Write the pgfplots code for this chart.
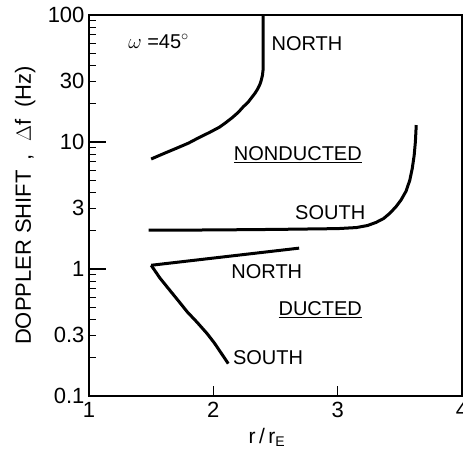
\documentclass[border=0pt]{standalone}
\usepackage{pgfplots}
\pgfplotsset{compat=1.18}
\usepackage{fontspec}
\setmainfont{Liberation Sans}
\begin{document}
\begin{tikzpicture}
\begin{axis}[
  scale only axis,
  width=373pt, height=381pt,
  ymode=log,
  xmin=1, xmax=4, ymin=0.1, ymax=100,
  axis line style={line width=1.4pt},
  tick align=inside,
  xtick pos=bottom, ytick pos=left,
  xtick={1,2,3,4},
  ytick={0.1,1,10,100},
  yticklabels={0.1,1,10,100},
  extra y ticks={0.3,3,30},
  extra y tick labels={0.3,3,30},
  extra y tick style={major tick length=7pt},
  minor ytick={0.2,0.4,0.5,0.6,0.7,0.8,0.9,2,4,5,6,7,8,9,20,40,50,60,70,80,90},
  major tick length=17pt, minor tick length=7pt,
  xtick style={/pgfplots/major tick length=10pt},
  every tick/.style={black, line width=1.2pt},
  log ticks with fixed point,
  ticklabel style={font=\fontsize{22}{24}\selectfont},
  /pgf/number format/assume math mode=true,
  yticklabel style={xshift=-1pt},
  xticklabel style={yshift=-3pt},
  xlabel={r\,/\,r\textsubscript{\fontsize{14}{15}\selectfont E}},
  ylabel={DOPPLER SHIFT\, ,\ \ \(\Delta\)f\ \ (Hz)},
  every axis x label/.style={at={(axis description cs:0.477,0)}, anchor=north, yshift=-29pt, font=\fontsize{21}{23}\selectfont},
  every axis y label/.style={at={(axis description cs:0,0.5)}, rotate=90, anchor=south, yshift=50pt, font=\fontsize{22}{24}\selectfont},
  clip=false,
]
% nonducted north
\addplot[black, line width=3pt] coordinates {(1.5,7.35) (1.6,8.1) (1.7,8.9) (1.8,9.8) (1.89,10.9) (1.97,11.9) (2.05,13.1) (2.1,14.2) (2.15,15.5) (2.2,17.1) (2.24,18.9) (2.28,20.6) (2.31,22.5) (2.335,24.2) (2.355,26) (2.372,28) (2.385,30.5) (2.395,33.5) (2.40,37) (2.40,100)};
% nonducted south
\addplot[black, line width=3pt] coordinates {(1.48,2.02) (2.0,2.03) (2.5,2.05) (3.0,2.08) (3.15,2.12) (3.24,2.2) (3.31,2.33) (3.37,2.5) (3.42,2.75) (3.47,3.1) (3.51,3.5) (3.55,4.1) (3.58,5.0) (3.60,6.2) (3.615,7.8) (3.625,10) (3.632,13.6)};
% ducted north
\addplot[black, line width=3pt] coordinates {(1.5,1.07) (2.69,1.46)};
% ducted south
\addplot[black, line width=3pt] coordinates {(1.5,1.07) (1.57,0.85) (1.65,0.68) (1.72,0.56) (1.79,0.46) (1.87,0.38) (1.95,0.31) (2.01,0.26) (2.06,0.22) (2.12,0.18)};
\node[anchor=west, font=\fontsize{20}{22}\selectfont] at (axis cs:2.44,60) {NORTH};
\node[font=\fontsize{20}{22}\selectfont] at (axis cs:2.68,7.9) {\underline{NONDUCTED}};
\node[font=\fontsize{20}{22}\selectfont] at (axis cs:2.94,2.76) {SOUTH};
\node[font=\fontsize{20}{22}\selectfont] at (axis cs:2.43,0.95) {NORTH};
\node[font=\fontsize{20}{22}\selectfont] at (axis cs:2.86,0.48) {\underline{DUCTED}};
\node[font=\fontsize{20}{22}\selectfont] at (axis cs:2.44,0.2) {SOUTH};
\node[font=\fontsize{20}{22}\selectfont] at (axis cs:1.56,62) {\(\omega\) =45\(^\circ\)};
\end{axis}
\pgfresetboundingbox
\path (-89pt,-55pt) rectangle (374pt,396pt);
\end{tikzpicture}
\end{document}
